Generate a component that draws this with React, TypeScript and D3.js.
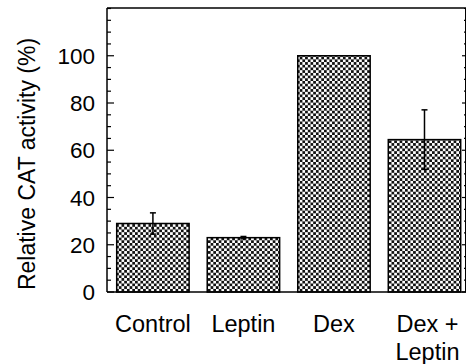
import React from "react";
import * as d3 from "d3";

const categories: string[][] = [["Control"], ["Leptin"], ["Dex"], ["Dex +", "Leptin"]];
const values: number[] = [29, 23, 100, 64.5];
const errors: number[] = [4.5, 0.5, 0, 12.6];
const majorTicks: number[] = [0, 20, 40, 60, 80, 100];
const minorTicks: number[] = d3.range(0, 121, 5);
const yLabel = "Relative CAT activity (%)";

const W = 466;
const H = 364;
const left = 107;
const right = 466;
const top = 8;
const bottom = 292;

export default function App() {
  const y = d3.scaleLinear().domain([0, 120]).range([bottom, top + 0.5]);
  const x = d3
    .scaleBand<number>()
    .domain(d3.range(categories.length))
    .range([116.7, 460.7])
    .paddingInner(0.2)
    .paddingOuter(0);
  const bw = x.bandwidth();
  const font = "'Liberation Sans', Arial, Helvetica, sans-serif";

  return (
    <svg
      width={W}
      height={H}
      style={{ position: "absolute", left: 0, top: 0, background: "#fff" }}
      fontFamily={font}
    >
      <defs>
        <pattern id="chk" patternUnits="userSpaceOnUse" width={5.4} height={5.4}>
          <rect x={0} y={0} width={5.4} height={5.4} fill="#fff" />
          <rect x={0} y={0} width={2.7} height={2.7} fill="#111" />
          <rect x={2.7} y={2.7} width={2.7} height={2.7} fill="#111" />
        </pattern>
      </defs>

      {/* bars */}
      {values.map((v, i) => (
        <rect
          key={"b" + i}
          x={x(i)!}
          y={y(v)}
          width={bw}
          height={y(0) - y(v)}
          fill="url(#chk)"
          stroke="#000"
          strokeWidth={1.5}
        />
      ))}

      {/* error bars */}
      {values.map((v, i) => {
        if (errors[i] <= 0) return null;
        const cx = x(i)! + bw / 2;
        const y1 = y(v + errors[i]);
        const y2 = y(v - errors[i]);
        return (
          <g key={"e" + i} stroke="#000" strokeWidth={1.5}>
            <line x1={cx} x2={cx} y1={y1} y2={y2} />
            <line x1={cx - 3} x2={cx + 3} y1={y1} y2={y1} />
            <line x1={cx - 3} x2={cx + 3} y1={y2} y2={y2} />
          </g>
        );
      })}

      {/* frame */}
      <line x1={left} x2={right} y1={top} y2={top} stroke="#000" strokeWidth={1.5} />
      <line x1={left} x2={right} y1={bottom} y2={bottom} stroke="#000" strokeWidth={1.5} />
      <line x1={left} x2={left} y1={top} y2={bottom} stroke="#000" strokeWidth={1.5} />
      <line x1={right - 0.5} x2={right - 0.5} y1={top} y2={bottom} stroke="#000" strokeWidth={1} />

      {/* ticks */}
      {minorTicks.map((t) => {
        const major = majorTicks.includes(t);
        return (
          <g key={"t" + t} stroke="#000" strokeWidth={1.2}>
            <line x1={left} x2={left + (major ? 7 : 4)} y1={y(t)} y2={y(t)} />
            <line x1={right} x2={right - (major ? 4 : 2)} y1={y(t)} y2={y(t)} />
          </g>
        );
      })}

      {/* tick labels */}
      {majorTicks.map((t) => (
        <text
          key={"l" + t}
          x={95}
          y={y(t)}
          dy="0.36em"
          textAnchor="end"
          fontSize={22.5}
          fill="#000"
        >
          {t}
        </text>
      ))}

      {/* category labels */}
      {categories.map((lines, i) => (
        <text
          key={"c" + i}
          x={x(i)! + bw / 2}
          y={332}
          textAnchor="middle"
          fontSize={23.5}
          fill="#000"
        >
          {lines.map((ln, j) => (
            <tspan key={j} x={x(i)! + bw / 2 + (i === 3 ? 3 : 0)} dy={j === 0 ? 0 : 28}>
              {ln}
            </tspan>
          ))}
        </text>
      ))}

      {/* y label */}
      <text
        transform="translate(35,164) rotate(-90)"
        textAnchor="middle"
        fontSize={23}
        fill="#000"
      >
        {yLabel}
      </text>
    </svg>
  );
}
